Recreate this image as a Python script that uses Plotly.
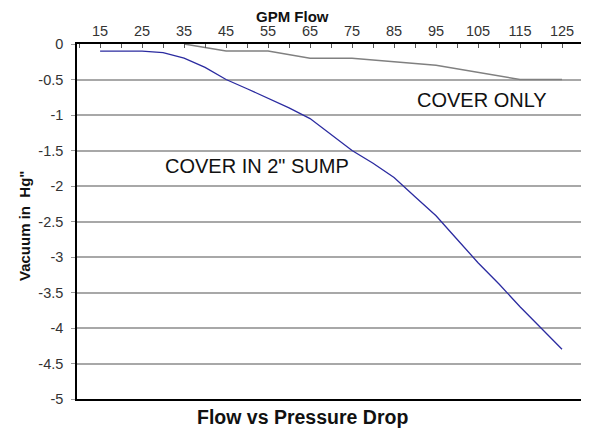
import plotly.graph_objects as go

gpm = [15, 20, 25, 30, 35, 40, 45, 50, 55, 60, 65, 70, 75, 80, 85, 90, 95, 100, 105, 110, 115, 120, 125]
sump = [-0.1, -0.1, -0.1, -0.12, -0.2, -0.33, -0.5, -0.63, -0.76, -0.9, -1.05, -1.27, -1.5,
        -1.68, -1.88, -2.15, -2.42, -2.75, -3.08, -3.38, -3.7, -4.0, -4.3]
cover_x = [35, 45, 55, 65, 75, 95, 115, 125]
cover_only = [0, -0.1, -0.1, -0.2, -0.2, -0.3, -0.5, -0.5]
x_ticks = [15, 25, 35, 45, 55, 65, 75, 85, 95, 105, 115, 125]
y_ticks = [0, -0.5, -1, -1.5, -2, -2.5, -3, -3.5, -4, -4.5, -5]

fig = go.Figure()
fig.add_trace(go.Scatter(x=cover_x, y=cover_only, mode="lines",
                         line=dict(color="#808080", width=1.5), name="COVER ONLY"))
fig.add_trace(go.Scatter(x=gpm, y=sump, mode="lines",
                         line=dict(color="#2B2BA0", width=1.3), name="COVER IN 2\" SUMP"))

fig.update_layout(
    width=581, height=420,
    margin=dict(l=69, r=6, t=36, b=29, autoexpand=False),
    paper_bgcolor="white", plot_bgcolor="white",
    showlegend=False,
    font=dict(family="Liberation Sans, Arial, sans-serif", color="black"),
    xaxis=dict(
        side="top", range=[9.5, 130], tickmode="array", tickvals=x_ticks,
        ticktext=[str(v) for v in x_ticks], tickfont=dict(size=14.5, color="#333"),
        showgrid=False, zeroline=False, showline=True, linecolor="black", linewidth=1.5,
        mirror=True, ticks="inside", ticklen=4, tickcolor="#555",
        minor=dict(ticks="inside", ticklen=4, dtick=5, tick0=20, tickcolor="#555"),
        automargin=False,
    ),
    yaxis=dict(
        range=[-5, 0], tickmode="array", tickvals=y_ticks,
        ticktext=[("%g" % v) for v in y_ticks], tickfont=dict(size=14.5, color="#333"),
        showgrid=True, gridcolor="#A8A8A8", gridwidth=1.5, zeroline=False,
        showline=True, linecolor="black", linewidth=1.5, mirror=True,
        ticks="outside", ticklen=4, tickcolor="#999", automargin=False,
        ticklabelstandoff=5,
    ),
    annotations=[
        dict(text="COVER ONLY", x=105.9, y=-0.79, xref="x", yref="y", showarrow=False,
             xanchor="center", yanchor="middle", font=dict(size=20, color="#111")),
        dict(text="COVER IN 2\" SUMP", x=52.4, y=-1.72, xref="x", yref="y", showarrow=False,
             xanchor="center", yanchor="middle", font=dict(size=20, color="#111")),
        dict(text="<b>Flow vs Pressure Drop</b>", x=63.1, y=0, xref="x", yref="paper",
             yanchor="middle", yshift=-18, showarrow=False, font=dict(size=19.5, color="#111")),
        dict(text="<b>GPM Flow</b>", x=60.9, y=1, xref="x", yref="paper",
             yanchor="middle", yshift=28, showarrow=False, font=dict(size=15, color="#111")),
        dict(text="<b>Vacuum in\u00a0\u00a0Hg\"</b>", x=0, y=0.5, xref="paper", yref="paper",
             xanchor="center", yanchor="middle", xshift=-53, yshift=-4.5, textangle=-90,
             showarrow=False, font=dict(size=15, color="#111")),
    ],
)

fig.write_html("out.html")
